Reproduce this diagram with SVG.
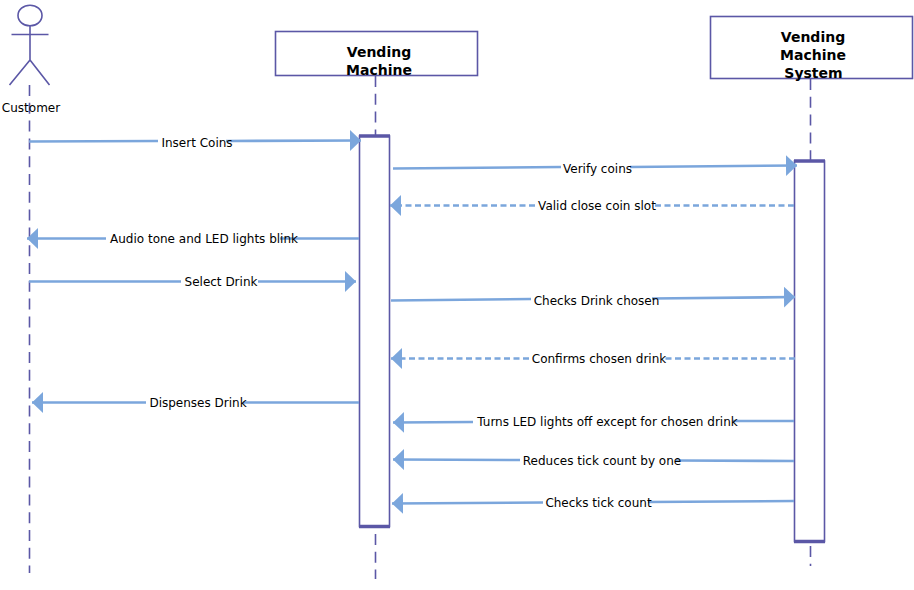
<svg xmlns="http://www.w3.org/2000/svg" width="914" height="590" viewBox="0 0 914 590">
<defs>
<marker id="ah" markerUnits="userSpaceOnUse" markerWidth="12" markerHeight="22" refX="11" refY="10.5" orient="auto"><path d="M0 0L11 10.5L0 21Z" fill="#7ba6dc"/></marker>
</defs>
<style>
.o{fill:#fff;stroke:#5b57a6;stroke-width:1.6}
.l{fill:none;stroke:#5b57a6;stroke-width:1.6}
.d{fill:none;stroke:#5b57a6;stroke-width:1.6;stroke-dasharray:11 6.800}
.b{fill:none;stroke:#5b57a6;stroke-width:3.6}
.m{fill:none;stroke:#7ba6dc;stroke-width:2.6}
.s{stroke-dasharray:6 3.500}
text{font-family:"DejaVu Sans","Liberation Sans",sans-serif;fill:#000}
.t{font-size:12px;text-anchor:middle}
.h{font-size:14px;font-weight:bold;text-anchor:middle}
</style>
<rect width="914" height="590" fill="#fff"/>
<g id="lifelines">
<path class="d" d="M29.500 85V573"/>
<path class="d" d="M375.500 76V135M375.500 534V579"/>
<path class="d" d="M810.500 79V160M810.500 546V566"/>
</g>
<g id="customer">
<ellipse class="l" cx="30" cy="15.500" rx="12" ry="10.300"/>
<path class="l" d="M30 26V60M11.500 34.500H48.500M30 60L9.500 85M30 60L49.500 85"/>
<text class="t" x="31" y="112">Customer</text>
</g>
<g id="vending-machine">
<rect class="o" x="275.500" y="31.500" width="202" height="44"/>
<text class="h" x="379" y="57">Vending</text>
<text class="h" x="379" y="75">Machine</text>
<rect class="o" x="359.500" y="136" width="30" height="390.500"/>
<path class="b" d="M359 136H390M359 526.500H390"/>
</g>
<g id="vending-machine-system">
<rect class="o" x="710.500" y="16.500" width="202" height="62"/>
<text class="h" x="813" y="42">Vending</text>
<text class="h" x="813" y="60">Machine</text>
<text class="h" x="813.500" y="78">System</text>
<rect class="o" x="794.500" y="161" width="30" height="380.500"/>
<path class="b" d="M794 161H825M794 541.500H825"/>
</g>
<g id="connectors">
<path class="m" d="M29 141.500L158 141"/><path class="m" marker-end="url(#ah)" d="M226 141L361 140.500"/>
<path class="m" d="M393 168.500L561 167"/><path class="m" marker-end="url(#ah)" d="M630 167L797 165.500"/>
<path class="m s" marker-end="url(#ah)" d="M535 205.500H390"/><path class="m s" d="M794 205.500H655"/>
<path class="m" marker-end="url(#ah)" d="M106 238.500H27"/><path class="m" d="M359 238.500H280"/>
<path class="m" d="M29 281.500H181"/><path class="m" marker-end="url(#ah)" d="M258 281.500H356"/>
<path class="m" d="M391 300.500L531 299"/><path class="m" marker-end="url(#ah)" d="M652 298.500L795 297"/>
<path class="m s" marker-end="url(#ah)" d="M529 358.500H391"/><path class="m s" d="M795 358.500H662"/>
<path class="m" marker-end="url(#ah)" d="M146 402.500H32"/><path class="m" d="M359 402.500H243"/>
<path class="m" marker-end="url(#ah)" d="M473 422L393 422.500"/><path class="m" d="M794 421L733 421"/>
<path class="m" marker-end="url(#ah)" d="M520 460L393 459.500"/><path class="m" d="M794 461L676 460.500"/>
<path class="m" marker-end="url(#ah)" d="M543 502.500L392 503.500"/><path class="m" d="M794 501L648 502"/>
</g>
<g id="labels">
<text class="t" x="197" y="147">Insert Coins</text>
<text class="t" x="597.500" y="173">Verify coins</text>
<text class="t" x="597" y="210">Valid close coin slot</text>
<text class="t" x="204" y="243">Audio tone and LED lights blink</text>
<text class="t" x="221" y="286">Select Drink</text>
<text class="t" x="596.500" y="305">Checks Drink chosen</text>
<text class="t" x="599" y="363">Confirms chosen drink</text>
<text class="t" x="198" y="407">Dispenses Drink</text>
<text class="t" x="607.500" y="426">Turns LED lights off except for chosen drink</text>
<text class="t" x="602" y="465">Reduces tick count by one</text>
<text class="t" x="598.500" y="507">Checks tick count</text>
</g>
</svg>
